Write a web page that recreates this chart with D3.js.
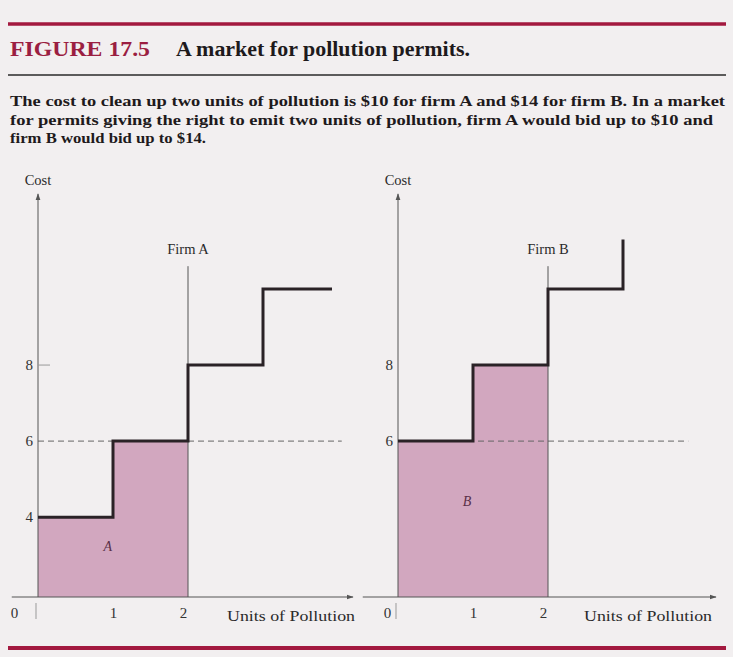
<!DOCTYPE html>
<html>
<head>
<meta charset="utf-8">
<script src="https://cdn.jsdelivr.net/npm/d3@7"></script>
<style>
  body { margin: 0; background: #f2eff0; }
  svg { display: block; }
  text { font-family: "Liberation Serif", "DejaVu Serif", serif; }
</style>
</head>
<body>
<svg id="chart" width="733" height="657"></svg>
<script>
// step edges (units of pollution) and the cost of each step
const stepEdgesA = [0, 1, 2, 3, 3.92]
const costA = [4, 6, 8, 10]
const stepEdgesB = [0, 1, 2, 3]
const costB = [6, 8, 10]
const endRiseB = 11.3

const permitUnits = 2
const permitPrice = 6
const xTicks = [0, 1, 2]
const yTicksA = [4, 6, 8]
const yTicksB = [6, 8]

const RED = "#a3193f"
const FILL = "#d2a7bf"
const INK = "#2a2226"

const svg = d3.select("#chart")
svg.append("rect").attr("width", 733).attr("height", 657).attr("fill", "#f2eff0")

// header
svg.append("line").attr("x1", 8).attr("x2", 726).attr("y1", 24).attr("y2", 24)
    .attr("stroke", RED).attr("stroke-width", 3.5)
svg.append("text").attr("x", 10).attr("y", 56)
    .attr("font-size", 20).attr("font-weight", "bold").attr("fill", "#9b1e41")
    .attr("textLength", 140).attr("lengthAdjust", "spacingAndGlyphs")
    .text("FIGURE 17.5")
svg.append("text").attr("x", 176).attr("y", 56)
    .attr("font-size", 20).attr("font-weight", "bold").attr("fill", "#1e1a1c")
    .attr("textLength", 294).attr("lengthAdjust", "spacingAndGlyphs")
    .text("A market for pollution permits.")
svg.append("line").attr("x1", 8).attr("x2", 726).attr("y1", 75).attr("y2", 75)
    .attr("stroke", "#2a2a2a").attr("stroke-width", 1.5)

const caption = [
    ["The cost to clean up two units of pollution is $10 for firm A and $14 for firm B. In a market", 715],
    ["for permits giving the right to emit two units of pollution, firm A would bid up to $10 and", 703],
    ["firm B would bid up to $14.", 196]
]
caption.forEach((c, i) => {
    svg.append("text").attr("x", 10).attr("y", 106 + i * 18.5)
        .attr("font-size", 15).attr("font-weight", "bold").attr("fill", "#1e1a1c")
        .attr("textLength", c[1]).attr("lengthAdjust", "spacingAndGlyphs")
        .text(c[0])
})

// bottom rule
svg.append("line").attr("x1", 8).attr("x2", 726).attr("y1", 648).attr("y2", 648)
    .attr("stroke", RED).attr("stroke-width", 4)

const y = d3.scaleLinear().domain([1.9, 10]).range([597, 289])

svg.append("defs").append("marker")
    .attr("id", "arrow").attr("viewBox", "0 0 10 10")
    .attr("refX", 9).attr("refY", 5)
    .attr("markerWidth", 7).attr("markerHeight", 7)
    .attr("orient", "auto-start-reverse")
    .append("path").attr("d", "M0,1.5 L10,5 L0,8.5 Z").attr("fill", "#555")

function drawPanel(opts) {
    const x = d3.scaleLinear().domain([0, 1]).range([opts.x0, opts.x0 + 75])
    const g = svg.append("g")
    const edges = opts.edges, cost = opts.cost

    // shaded area for the units the firm cleans up
    const areaPts = []
    cost.forEach((c, i) => {
        if (edges[i] >= permitUnits) return
        areaPts.push({u: edges[i], c: c})
        areaPts.push({u: Math.min(edges[i + 1], permitUnits), c: c})
    })
    g.append("path").datum(areaPts)
        .attr("d", d3.area().x(d => x(d.u)).y0(y.range()[0]).y1(d => y(d.c)))
        .attr("fill", FILL)

    // dashed permit price line
    g.append("line")
        .attr("x1", x(0)).attr("x2", x(opts.dashEnd))
        .attr("y1", y(permitPrice)).attr("y2", y(permitPrice))
        .attr("stroke", "#666").attr("stroke-width", 1)
        .attr("stroke-dasharray", "6,4")

    // permit supply line
    g.append("line")
        .attr("x1", x(permitUnits)).attr("x2", x(permitUnits))
        .attr("y1", y.range()[0]).attr("y2", y(10.6))
        .attr("stroke", "#555").attr("stroke-width", 1)
    g.append("text").attr("x", x(permitUnits)).attr("y", 254)
        .attr("text-anchor", "middle").attr("font-size", 14.5).attr("fill", "#2a2a2a")
        .text(opts.firmLabel)

    // axes
    g.append("line")
        .attr("x1", x(0)).attr("x2", x(0))
        .attr("y1", y.range()[0]).attr("y2", y(12.5))
        .attr("stroke", "#555").attr("stroke-width", 1)
        .attr("marker-end", "url(#arrow)")
    g.append("line")
        .attr("x1", x(opts.axisStart)).attr("x2", x(opts.axisEnd))
        .attr("y1", y.range()[0]).attr("y2", y.range()[0])
        .attr("stroke", "#555").attr("stroke-width", 1)
        .attr("marker-end", "url(#arrow)")
    g.append("text").attr("x", x(0)).attr("y", 185)
        .attr("text-anchor", "middle").attr("font-size", 14.5).attr("fill", "#2a2a2a")
        .text("Cost")

    const yAxis = g.append("g").attr("transform", `translate(${x(0)},0)`)
        .call(d3.axisLeft(y).tickValues(opts.yTicks).tickFormat(d3.format("d")).tickSize(0).tickPadding(5))
        .attr("font-size", 15).attr("font-family", "Liberation Serif")
    yAxis.select(".domain").remove()
    yAxis.selectAll("text").attr("fill", "#333")
    if (opts.tickMark) {
        g.append("line").attr("x1", x(0)).attr("x2", x(0) + 12)
            .attr("y1", y(8)).attr("y2", y(8)).attr("stroke", "#999")
    }

    const xAxis = g.append("g").attr("transform", `translate(0,${y.range()[0]})`)
        .call(d3.axisBottom(x).tickValues(xTicks).tickFormat(d3.format("d")).tickSize(0).tickPadding(10))
        .attr("font-size", 15).attr("font-family", "Liberation Serif")
    xAxis.select(".domain").remove()
    xAxis.selectAll("text").attr("fill", "#333")
        .attr("dx", d => d === 0 ? -opts.zeroShift : (d === 2 ? -5 : 0))
    g.append("line").attr("x1", x(0) - 2).attr("x2", x(0) - 2)
        .attr("y1", y.range()[0] + 6).attr("y2", y.range()[0] + 22)
        .attr("stroke", "#999").attr("stroke-width", 1)
    g.append("text").attr("x", opts.unitsX).attr("y", 621)
        .attr("font-size", 15).attr("fill", "#2a2a2a")
        .attr("textLength", 128).attr("lengthAdjust", "spacingAndGlyphs")
        .text("Units of Pollution")

    // step line
    const stepPts = []
    cost.forEach((c, i) => {
        stepPts.push({u: edges[i], c: c})
        stepPts.push({u: edges[i + 1], c: c})
    })
    if (opts.endRise) stepPts.push({u: edges[edges.length - 1], c: opts.endRise})
    g.append("path").datum(stepPts)
        .attr("d", d3.line().x(d => x(d.u)).y(d => y(d.c)))
        .attr("fill", "none").attr("stroke", INK).attr("stroke-width", 3)
        .attr("stroke-linejoin", "miter")

    g.append("text").attr("x", x(opts.areaLabelU)).attr("y", y(opts.areaLabelC))
        .attr("text-anchor", "middle").attr("font-size", 14).attr("font-style", "italic")
        .attr("fill", "#5a3048").text(opts.areaLabel)
}

drawPanel({
    x0: 38, edges: stepEdgesA, cost: costA, yTicks: yTicksA,
    firmLabel: "Firm A", dashEnd: 4.05, axisStart: -0.35, axisEnd: 4.2,
    zeroShift: 24, unitsX: 227, tickMark: true,
    areaLabel: "A", areaLabelU: 0.93, areaLabelC: 3.1
})
drawPanel({
    x0: 398, edges: stepEdgesB, cost: costB, yTicks: yTicksB, endRise: endRiseB,
    firmLabel: "Firm B", dashEnd: 3.87, axisStart: -0.47, axisEnd: 4.24,
    zeroShift: 11, unitsX: 584, tickMark: false,
    areaLabel: "B", areaLabelU: 0.92, areaLabelC: 4.3
})
</script>
</body>
</html>
